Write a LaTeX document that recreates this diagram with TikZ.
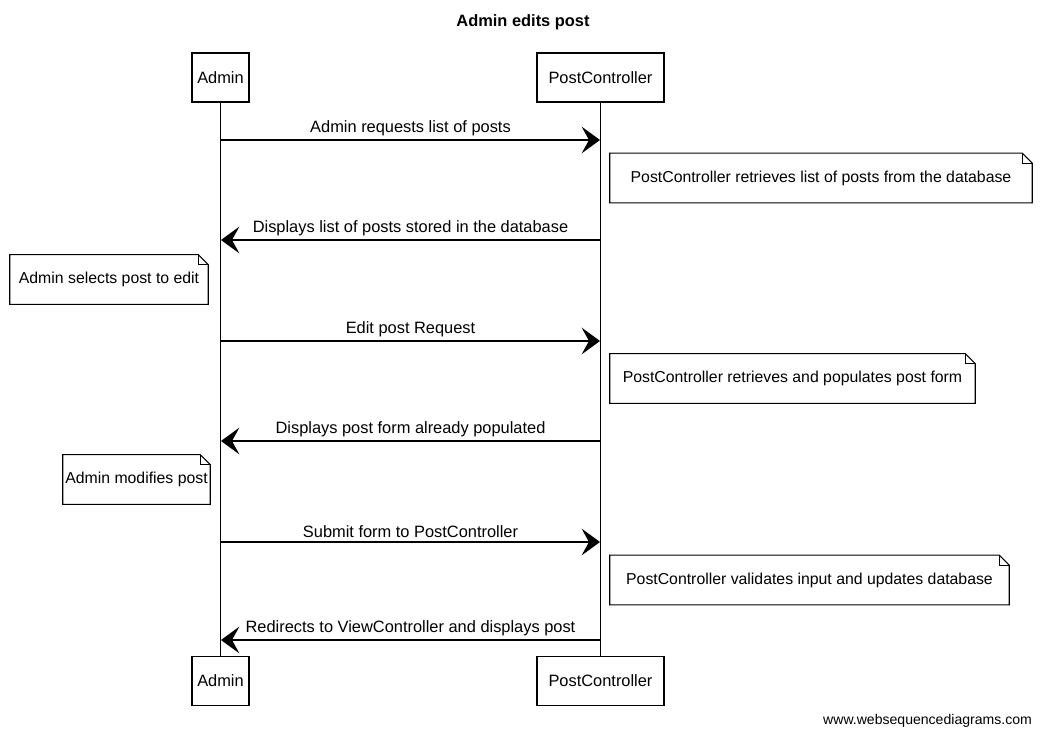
\documentclass[tikz,border=0pt]{standalone}
\usepackage{fontspec}
\setmainfont{Liberation Sans}
\usetikzlibrary{arrows.meta}

\begin{document}
\begin{tikzpicture}[x=0.03cm, y=-0.03cm,
    every node/.style={font=\fontsize{14}{16}\selectfont},
    actor/.style={draw, line width=0.9pt, minimum height=1.47cm},
    note/.style={minimum height=1.48cm, inner sep=0pt, font=\fontsize{13.5}{16}\selectfont},
    msg/.style={line width=0.9pt, -{Stealth[length=5.5mm, width=8mm, inset=2.2mm]}},
    lifeline/.style={line width=0.6pt}]
    \useasboundingbox (0,0) rectangle (1044,737);

    \node[font=\fontsize{14}{16}\selectfont\bfseries] (title) at (523,22) {Admin edits post};

    \node[actor, minimum width=1.71cm] (admintop) at (220.5,77.5) {Admin};
    \node[actor, minimum width=3.81cm] (pctop) at (600.5,77.5) {PostController};
    \node[actor, minimum width=1.71cm] (adminbot) at (220.5,681) {Admin};
    \node[actor, minimum width=3.81cm] (pcbot) at (600.5,681) {PostController};

    \draw[lifeline] (admintop) -- (adminbot);
    \draw[lifeline] (pctop) -- (pcbot);

    \foreach \i/\y in {1/140, 2/240, 3/341, 4/441, 5/542, 6/640} {
        \coordinate (a\i) at (221,\y);
        \coordinate (p\i) at (600,\y);
    }

    \draw[msg] (a1) -- node[above=0pt] {Admin requests list of posts} (p1);
    \draw[msg] (p2) -- node[above=0pt] {Displays list of posts stored in the database} (a2);
    \draw[msg] (a3) -- node[above=0pt] {Edit post Request} (p3);
    \draw[msg] (p4) -- node[above=0pt] {Displays post form already populated} (a4);
    \draw[msg] (a5) -- node[above=0pt] {Submit form to PostController} (p5);
    \draw[msg] (p6) -- node[above=0pt] {Redirects to ViewController and displays post} (a6);

    \node[note, minimum width=12.66cm] (n1) at (821,178) {PostController retrieves list of posts from the database};
    \node[note, minimum width=5.94cm] (n2) at (109,279.5) {Admin selects post to edit};
    \node[note, minimum width=10.95cm] (n3) at (792.5,378.5) {PostController retrieves and populates post form};
    \node[note, minimum width=4.41cm] (n4) at (136.5,479.5) {Admin modifies post};
    \node[note, minimum width=11.97cm] (n5) at (809.5,580) {PostController validates input and updates database};

    \foreach \n in {n1,n2,n3,n4,n5} {
        \draw[line width=0.9pt] (\n.south west) -- (\n.north west) -- ([xshift=-0.3cm]\n.north east)
            -- ([yshift=-0.3cm]\n.north east) -- (\n.south east) -- cycle;
        \draw[line width=0.5pt] ([xshift=-0.3cm]\n.north east) -- ([xshift=-0.3cm,yshift=-0.3cm]\n.north east)
            -- ([yshift=-0.3cm]\n.north east);
    }

    \node[anchor=east, font=\fontsize{12}{14}\selectfont] (site) at (1036,721) {www.websequencediagrams.com};
\end{tikzpicture}
\end{document}
